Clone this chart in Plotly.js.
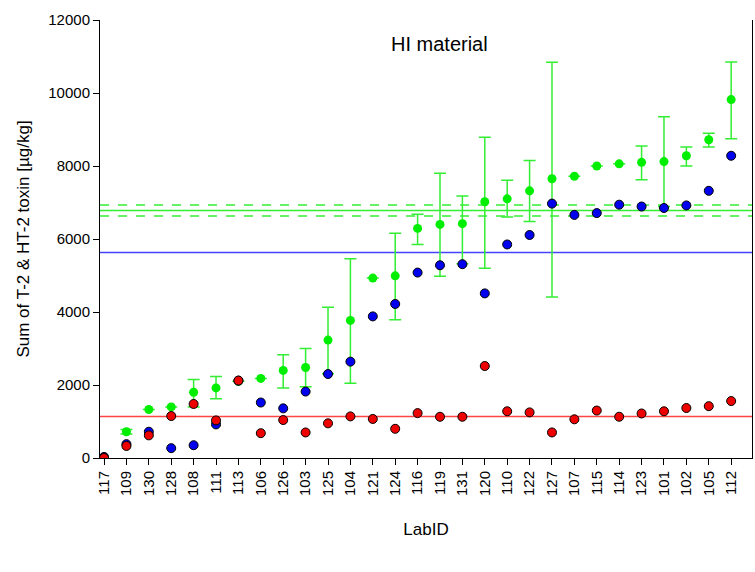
<!DOCTYPE html>
<html>
<head>
<script src="https://cdn.plot.ly/plotly-3.0.1.min.js"></script>
<style>body{margin:0}</style>
</head>
<body>
<div id="chart" style="width:755px;height:572px"></div>
<script>
var labIds = ['117','109','130','128','108','111','113','106','126','103','125','104','121','124','116','119','131','120','110','122','127','107','115','114','123','101','102','105','112'];
var greenVals = [null,720,1330,1400,1800,1920,2100,2180,2400,2480,3230,3770,4930,4990,6290,6400,6420,7020,7100,7320,7650,7720,8000,8060,8100,8120,8280,8720,9820];
var greenErrPlus = [0,60,0,0,350,310,0,0,430,520,900,1690,0,1170,390,1400,760,1770,510,830,3190,0,0,0,450,1230,240,180,1030];
var greenErrMinus = [0,60,0,0,400,300,0,0,480,530,920,1720,0,1200,440,1420,1100,1820,500,840,3240,0,0,0,480,1230,280,200,1070];
var blueVals = [30,380,720,270,350,920,2120,1520,1360,1820,2300,2640,3880,4220,5080,5280,5310,4510,5850,6110,6970,6660,6710,6940,6890,6850,6920,7320,8280];
var redVals = [0,330,620,1150,1480,1030,2120,680,1040,700,950,1140,1070,800,1230,1130,1130,2520,1280,1250,700,1060,1300,1130,1220,1280,1370,1420,1560];
var redLine = 1140, blueLine = 5630, greenLine = 6780, greenLow = 6630, greenHigh = 6930;

var xs = labIds.map(function(d, i) { return i; });

var data = [
  {
    x: xs, y: greenVals, type: 'scatter', mode: 'markers',
    marker: {color: '#00ee00', size: 9},
    error_y: {type: 'data', symmetric: false, array: greenErrPlus, arrayminus: greenErrMinus,
              color: '#33ee33', thickness: 1.5, width: 6}
  },
  {
    x: xs, y: blueVals, type: 'scatter', mode: 'markers',
    marker: {color: '#0000ee', size: 9, line: {color: 'black', width: 1}}
  },
  {
    x: xs, y: redVals, type: 'scatter', mode: 'markers',
    marker: {color: '#ee0000', size: 9, line: {color: 'black', width: 1}}
  }
];

function hline(y, color, dash) {
  return {type: 'line', xref: 'paper', x0: 0, x1: 1, yref: 'y', y0: y, y1: y,
          line: {color: color, width: 1.5, dash: dash || 'solid'}, layer: 'below'};
}

var layout = {
  showlegend: false,
  margin: {l: 100, r: 3, t: 20, b: 114},
  plot_bgcolor: 'white',
  paper_bgcolor: 'white',
  font: {family: 'Liberation Sans, Arial, sans-serif', size: 15, color: 'black'},
  xaxis: {
    range: [-0.18, 28.93], tickvals: xs, ticktext: labIds, tickangle: -90,
    showgrid: false, zeroline: false, showline: true, linecolor: 'black',
    ticks: 'outside', ticklen: 6, tickcolor: 'black',
    title: {text: 'LabID', standoff: 28, font: {size: 17}}
  },
  yaxis: {
    range: [0, 12000], dtick: 2000, tickformat: 'd', showgrid: false, zeroline: false,
    showline: true, linecolor: 'black', mirror: true,
    ticks: 'outside', ticklen: 6, tickcolor: 'black',
    title: {text: 'Sum of T-2 & HT-2 toxin [µg/kg]', standoff: 14, font: {size: 17}}
  },
  shapes: [
    hline(redLine, '#ff4444'),
    hline(blueLine, '#4444ff'),
    hline(greenLine, '#33ee33'),
    hline(greenLow, '#33ee33', 'dash'),
    hline(greenHigh, '#33ee33', 'dash')
  ],
  annotations: [{text: 'HI material', xref: 'paper', yref: 'paper', x: 0.52, y: 0.975,
                 showarrow: false, font: {size: 20}}]
};

Plotly.newPlot('chart', data, layout, {staticPlot: true});
</script>
</body>
</html>
